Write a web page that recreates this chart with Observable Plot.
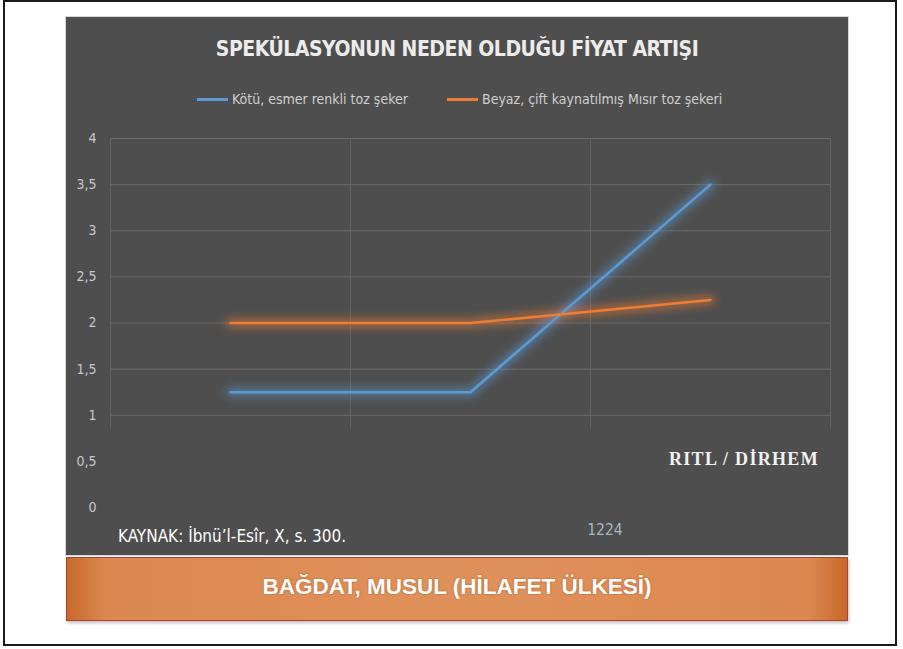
<!DOCTYPE html>
<html>
<head>
<meta charset="utf-8">
<script src="https://cdn.jsdelivr.net/npm/d3@7"></script>
<script src="https://cdn.jsdelivr.net/npm/@observablehq/plot@0.6"></script>
<style>
  html, body { margin: 0; padding: 0; background: #fff; }
  body { width: 903px; height: 649px; position: relative; overflow: hidden; }
  #frame { position: absolute; left: 3px; top: 0; width: 894px; height: 646px; border: 2px solid #1a1a1a; box-sizing: border-box; }
  #panel { position: absolute; left: 66px; top: 17px; width: 782px; height: 538px; background: #4e4e4e; outline: 1px solid #d8d8d8; }
  .narrow { font-family: "Liberation Sans Narrow", "DejaVu Sans Condensed", "Open Sans", sans-serif; font-stretch: condensed; }
  #title { position: absolute; left: 0; width: 100%; top: 20px; text-align: center; color: #ececec; font-size: 21px; font-weight: bold; letter-spacing: -0.5px; }
  #legend { position: absolute; left: 0; width: 100%; top: 74px; color: #cfcfcf; font-size: 14px; }
  .lg { position: absolute; top: 0; white-space: nowrap; }
  .sw { display: inline-block; width: 31px; height: 3px; vertical-align: middle; margin-right: 4px; position: relative; top: -1px; }
  #chart { position: absolute; left: 0; top: 110px; }
  #unit { position: absolute; left: 603px; top: 432px; color: #f2f2f2; font-family: "Liberation Serif", "DejaVu Serif", serif; font-weight: bold; font-size: 18px; letter-spacing: 1.3px; }
  #source { position: absolute; left: 52px; top: 509px; color: #ffffff; font-size: 17px; white-space: nowrap; }
  #banner { position: absolute; left: 66px; top: 557px; width: 782px; height: 64px; box-sizing: border-box; border: 1.5px solid #b2402c;
    background: linear-gradient(to right, #c8692b 0%, #dc8850 5%, #e0915a 50%, #dc8850 95%, #c8692b 100%);
    box-shadow: 1px 2px 3px rgba(0,0,0,0.25); }
  #banner span { position: absolute; left: 0; width: 100%; top: 16px; text-align: center; color: #fff; font-family: "Liberation Sans", Arial, sans-serif; font-weight: bold; font-size: 22.5px; text-shadow: 0 0 2px rgba(120,50,10,0.5); }
</style>
</head>
<body>
<div id="frame"></div>
<div id="panel">
  <div id="title" class="narrow"></div>
  <div id="legend" class="narrow"></div>
  <div id="chart"></div>
  <div id="unit"></div>
  <div id="source" class="narrow"></div>
</div>
<div id="banner"><span></span></div>
<script>
// ---- data ----
const titleText = "SPEKÜLASYONUN NEDEN OLDUĞU FİYAT ARTIŞI";
const seriesNames = ["Kötü, esmer renkli toz şeker", "Beyaz, çift kaynatılmış Mısır toz şekeri"];
const seriesColors = ["#5b9bd5", "#ed7d31"];
const positions = [1, 2, 3];
const brownSugar = [1.25, 1.25, 3.5];
const whiteSugar = [2, 2, 2.25];
const yTicks = [0, 0.5, 1, 1.5, 2, 2.5, 3, 3.5, 4];
const gridY = [1, 1.5, 2, 2.5, 3, 3.5, 4];
const gridX = [0.5, 1.5, 2.5, 3.5];
const xLabels = [{x: 2.56, label: "1224"}];
const unitText = "RITL / DİRHEM";
const sourceText = "KAYNAK: İbnü’l-Esîr, X, s. 300.";
const bannerText = "BAĞDAT, MUSUL (HİLAFET ÜLKESİ)";

const data = [
  ...positions.map((x, i) => ({x, y: brownSugar[i], s: seriesNames[0]})),
  ...positions.map((x, i) => ({x, y: whiteSugar[i], s: seriesNames[1]}))
];

document.getElementById("title").textContent = titleText;
document.getElementById("unit").textContent = unitText;
document.getElementById("source").textContent = sourceText;
document.querySelector("#banner span").textContent = bannerText;

const legend = document.getElementById("legend");
const legendX = [131, 381];
seriesNames.forEach((n, i) => {
  const d = document.createElement("div");
  d.className = "lg";
  d.style.left = legendX[i] + "px";
  d.innerHTML = `<span class="sw" style="background:${seriesColors[i]}"></span>`;
  d.appendChild(document.createTextNode(n));
  legend.appendChild(d);
});

const fmt = v => String(v).replace(".", ",");

const chart = Plot.plot({
  width: 782,
  height: 428,
  marginTop: 11,
  marginBottom: 48,
  marginLeft: 44,
  marginRight: 18,
  style: {background: "transparent", color: "#c8c8c8", fontSize: "14px", fontFamily: "'Liberation Sans Narrow', 'DejaVu Sans Condensed', sans-serif"},
  x: {type: "linear", domain: [0.5, 3.5], axis: null},
  y: {domain: [0, 4], ticks: yTicks, tickFormat: fmt, tickSize: 0, tickPadding: 14, label: null},
  color: {domain: seriesNames, range: seriesColors},
  marks: [
    Plot.ruleY(gridY, {stroke: "#6b6b6b", strokeWidth: 1}),
    Plot.ruleX(gridX, {y1: 0.85, y2: 4, stroke: "#636363", strokeWidth: 1}),
    Plot.line(data, {x: "x", y: "y", z: "s", stroke: "s", strokeWidth: 10, strokeOpacity: 0.5}),
    Plot.line(data, {x: "x", y: "y", z: "s", stroke: "s", strokeWidth: 2.5}),
    Plot.text(xLabels, {x: "x", y: 0, text: "label", dy: 23, fill: "#aab6c4", fontSize: 15.5})
  ]
});

// soft glow on the wide line layer
const svg = d3.select(chart);
const defs = svg.insert("defs", ":first-child");
defs.append("filter").attr("id", "glow").attr("x", "-10%").attr("y", "-30%").attr("width", "120%").attr("height", "160%")
  .append("feGaussianBlur").attr("stdDeviation", 4);
const lineGroups = svg.selectAll("g[aria-label='line']").nodes();
if (lineGroups.length) d3.select(lineGroups[0]).attr("filter", "url(#glow)");

document.getElementById("chart").appendChild(chart);
</script>
</body>
</html>
